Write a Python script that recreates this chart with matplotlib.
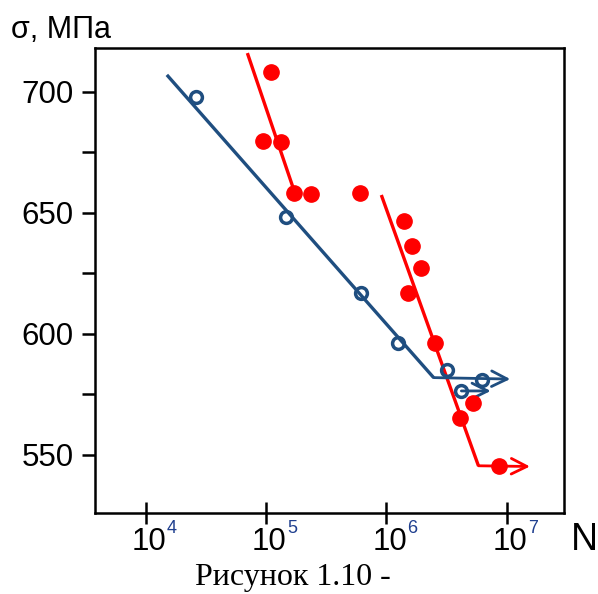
import numpy as np
import matplotlib
matplotlib.use("Agg")
import matplotlib.pyplot as plt
from matplotlib.ticker import NullLocator, FixedLocator, NullFormatter

plt.rcParams['font.family'] = ['Liberation Sans', 'DejaVu Sans']

# ---- data ----
blue_N = [2.62e4, 1.47e5, 6.17e5, 1.26e6, 3.21e6, 6.2e6, 4.2e6]
blue_s = [697.8, 648.3, 616.9, 596.2, 585.1, 581.0, 576.4]
blue_line_N = [1.5e4, 2.47e6]
blue_line_s = [706.9, 581.9]
blue_arrow1_N = [2.47e6, 1.07e7]
blue_arrow1_s = [581.9, 581.3]
blue_arrow2_N = [4.2e6, 7.36e6]
blue_arrow2_s = [576.4, 576.4]

red_N = [1.09e5, 9.5e4, 1.34e5, 1.72e5, 2.38e5, 6.07e5, 1.41e6, 1.64e6,
         1.93e6, 1.52e6, 2.54e6, 5.22e6, 4.1e6, 8.65e6]
red_s = [708.1, 679.6, 679.2, 658.2, 657.8, 658.2, 646.7, 636.4,
         627.3, 616.8, 596.1, 571.3, 565.2, 545.2]
red_line1_N = [7.0e4, 1.76e5]
red_line1_s = [715.9, 657.3]
red_line2_N = [9.08e5, 5.82e6]
red_line2_s = [657.3, 545.5]
red_arrow_N = [5.82e6, 1.56e7]
red_arrow_s = [545.5, 545.2]

x_ticks = [1e4, 1e5, 1e6, 1e7]
x_tick_base = ['10', '10', '10', '10']
x_tick_exp = ['4', '5', '6', '7']
y_ticks = [550, 600, 650, 700]
y_minor = [575, 625, 675]

BLUE = '#1F4E80'
SUPBLUE = '#1F3F8F'
RED = '#FF0000'

fig = plt.figure(figsize=(5.98, 5.94), dpi=100)
ax = fig.add_axes([95/598, 1-513/594, (564-95)/598, (513-48)/594])
ax.set_xscale('log')
ax.set_xlim(10**3.579, 10**7.476)
ax.set_ylim(526, 718)

# lines
ax.plot(blue_line_N, blue_line_s, color=BLUE, lw=2.4, solid_capstyle='butt', zorder=2)
ax.plot(red_line1_N, red_line1_s, color=RED, lw=2.4, solid_capstyle='butt', zorder=2)
ax.plot(red_line2_N, red_line2_s, color=RED, lw=2.4, solid_capstyle='butt', zorder=2)

for Ns, ss, c in [(blue_arrow1_N, blue_arrow1_s, BLUE),
                  (blue_arrow2_N, blue_arrow2_s, BLUE),
                  (red_arrow_N, red_arrow_s, RED)]:
    ax.annotate('', xy=(Ns[1], ss[1]), xytext=(Ns[0], ss[0]),
                arrowprops=dict(arrowstyle='->', color=c, lw=2.0,
                                mutation_scale=28, shrinkA=0, shrinkB=0),
                zorder=2)

# markers
ax.plot(red_N, red_s, 'o', color=RED, ms=11, mec=RED, zorder=3)
ax.plot(blue_N, blue_s, 'o', mfc='none', mec=BLUE, mew=2.5, ms=8.5, zorder=4)

# axes styling
for sp in ax.spines.values():
    sp.set_linewidth(1.8)
ax.xaxis.set_major_locator(FixedLocator(x_ticks))
ax.xaxis.set_minor_locator(NullLocator())
ax.xaxis.set_major_formatter(NullFormatter())
ax.yaxis.set_major_locator(FixedLocator(y_ticks))
ax.yaxis.set_minor_locator(FixedLocator(y_minor))
ax.tick_params(axis='x', which='major', direction='inout', length=16, width=1.8)
ax.tick_params(axis='y', which='both', direction='out', length=9.5, width=1.8,
               labelsize=22.5, pad=6)

# x tick labels: "10" with coloured superscript
for t, b, e in zip(x_ticks, x_tick_base, x_tick_exp):
    ax.annotate(b, xy=(t, 0), xycoords=('data', 'axes fraction'),
                xytext=(15, -26.5), textcoords='offset points',
                ha='right', va='baseline', fontsize=22.5, annotation_clip=False)
    ax.annotate(e, xy=(t, 0), xycoords=('data', 'axes fraction'),
                xytext=(15.2, -14.5), textcoords='offset points',
                ha='left', va='baseline', fontsize=13, color=SUPBLUE,
                annotation_clip=False)

fig.text(11/598, 1-38.5/594, 'σ, МПа', fontsize=22, ha='left', va='baseline')
fig.text(571/598, 1-550/594, 'N', fontsize=27, ha='left', va='baseline')
fig.text(195/598, 1-585/594, 'Рисунок 1.10 -', fontsize=23, ha='left', va='baseline',
         family=['Liberation Serif', 'DejaVu Serif'])

fig.savefig('out.png', dpi=100)
